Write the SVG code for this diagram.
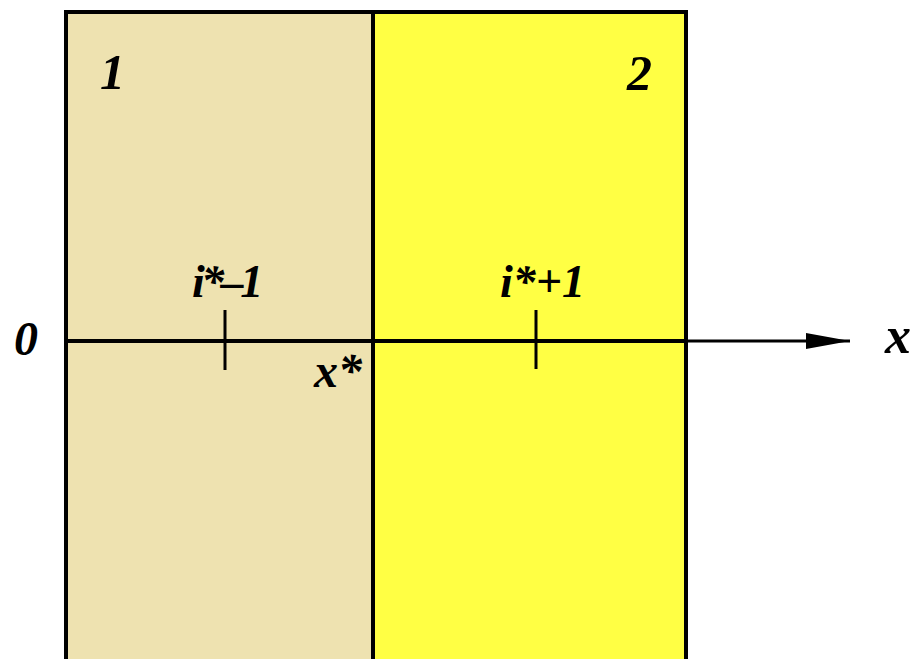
<svg xmlns="http://www.w3.org/2000/svg" width="915" height="659" viewBox="0 0 915 659">
<style>
.t{font-family:'Liberation Serif','Times New Roman',serif;font-weight:700;font-style:italic;fill:#000}
.ln{stroke:#000}
</style>
<defs>
<marker id="ah" markerUnits="userSpaceOnUse" markerWidth="46" markerHeight="20" refX="44" refY="9" orient="auto">
<path d="M0,1 L44,9 L0,17 Z" fill="#000"/>
</marker>
</defs>
<rect width="915" height="659" fill="#fff"/>
<g id="region1">
<rect x="66" y="12" width="307" height="660" fill="#EEE2B0" stroke="#000" stroke-width="4"/>
<text class="t" x="100" y="89" font-size="50">1</text>
</g>
<g id="region2">
<rect x="373" y="12" width="313" height="660" fill="#FFFF44" stroke="#000" stroke-width="4"/>
<text class="t" x="627" y="90" font-size="50">2</text>
</g>
<g id="connectors">
<line class="ln" x1="66" y1="341" x2="686" y2="341" stroke-width="4"/>
<line class="ln" x1="686" y1="341" x2="850" y2="341" stroke-width="3" marker-end="url(#ah)"/>
<line class="ln" x1="225" y1="310" x2="225" y2="370" stroke-width="3"/>
<line class="ln" x1="536" y1="310" x2="536" y2="369" stroke-width="3"/>
</g>
<g id="labels">
<text class="t" x="14" y="355" font-size="48">0</text>
<text class="t" x="192" y="297" font-size="46" letter-spacing="-3.5">i*–1</text>
<text class="t" x="500" y="297" font-size="46">i*+1</text>
<text class="t" x="314" y="387" font-size="48">x*</text>
<text class="t" x="885" y="353" font-size="52">x</text>
</g>
</svg>
